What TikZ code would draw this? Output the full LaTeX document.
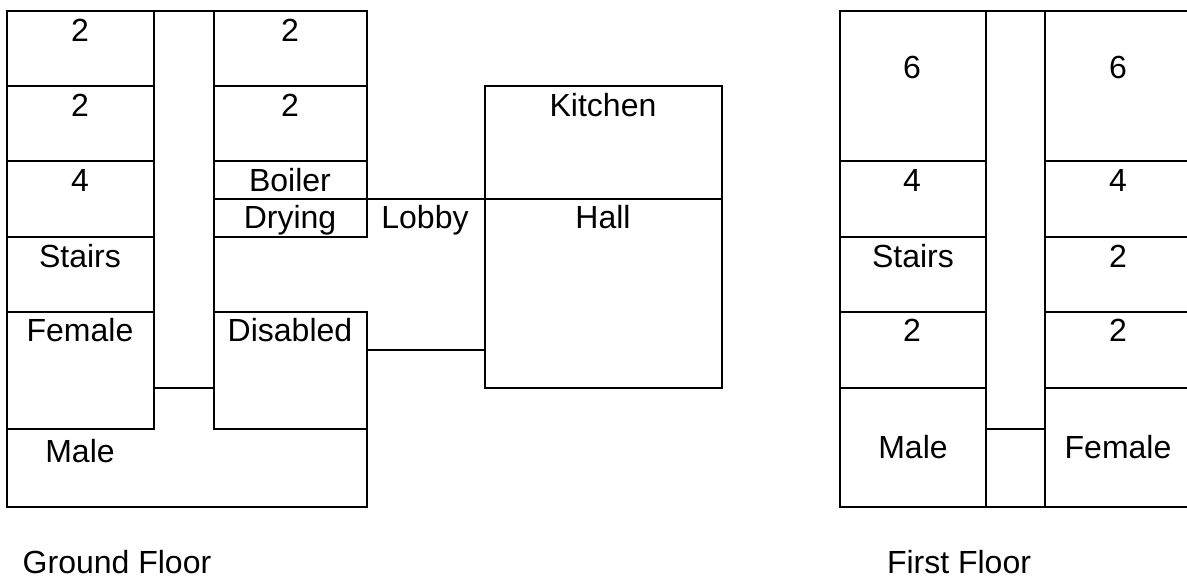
\documentclass[tikz,border=0pt]{standalone}
\usepackage{fontspec}
\setmainfont{Liberation Sans}
\tikzset{
  wall/.style={line width=1.7pt, line cap=rect},
  room/.style={anchor=base, inner sep=0pt, font=\fontsize{32}{36}\selectfont}
}

\begin{document}
\begin{tikzpicture}[x=1pt, y=-1pt]
    \useasboundingbox (0,0) rectangle (1187,576);

    % Ground floor
    \draw [wall] (154,429) -- (154,11);
    \draw [wall] (214,429) -- (214,11);
    \draw [wall] (7,507) -- (7,11) -- (367,11) -- (367,237) -- (214,237);
    \draw [wall] (7,507) -- (367,507) -- (367,312) -- (214,312);
    \draw [wall] (7,86) -- (154,86);
    \draw [wall] (7,161) -- (154,161);
    \draw [wall] (7,237) -- (154,237);
    \draw [wall] (7,312) -- (154,312);
    \draw [wall] (7,429) -- (154,429);
    \draw [wall] (214,86) -- (367,86);
    \draw [wall] (214,161) -- (367,161);
    \draw [wall] (214,199) -- (367,199);
    \draw [wall] (214,429) -- (367,429);
    \draw [wall] (154,388) -- (214,388);

    % Lobby, Kitchen and Hall
    \draw [wall] (367,199) -- (722,199);
    \draw [wall] (367,350) -- (485,350);
    \draw [wall] (485,86) rectangle (722,388);

    \node (G1) [room] at (80,41) {2};
    \node (G2) [room] at (80,116) {2};
    \node (G3) [room] at (80,191) {4};
    \node (GStairs) [room] at (80,267) {Stairs};
    \node (GFemale) [room] at (80,341) {Female};
    \node (GMale) [room] at (80,462) {Male};
    \node (G4) [room] at (290,41) {2};
    \node (G5) [room] at (290,116) {2};
    \node (GBoiler) [room] at (290,191) {Boiler};
    \node (GDrying) [room] at (290,228) {Drying};
    \node (GDisabled) [room] at (290,341) {Disabled};
    \node (Lobby) [room] at (425,228) {Lobby};
    \node (Kitchen) [room] at (603,116) {Kitchen};
    \node (Hall) [room] at (603,228) {Hall};
    \node (GTitle) [room] at (117,573) {Ground Floor};

    % First floor
    \draw [wall] (986,507) -- (986,11);
    \draw [wall] (1045,507) -- (1045,11);
    \draw [wall] (840,11) rectangle (1190,507);
    \foreach \y in {161,237,312,388} {
        \draw [wall] (840,\y) -- (986,\y);
        \draw [wall] (1045,\y) -- (1190,\y);
    }
    \draw [wall] (986,429) -- (1045,429);

    \node (F1) [room] at (912,78) {6};
    \node (F2) [room] at (912,191) {4};
    \node (FStairs) [room] at (913,267) {Stairs};
    \node (F3) [room] at (912,341) {2};
    \node (FMale) [room] at (913,458) {Male};
    \node (F4) [room] at (1118,78) {6};
    \node (F5) [room] at (1118,191) {4};
    \node (F6) [room] at (1118,267) {2};
    \node (F7) [room] at (1118,341) {2};
    \node (FFemale) [room] at (1118,458) {Female};
    \node (FTitle) [room] at (959,573) {First Floor};
\end{tikzpicture}
\end{document}
